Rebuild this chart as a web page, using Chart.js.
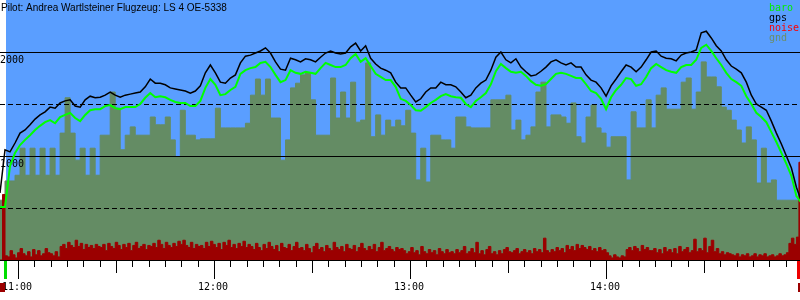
<!DOCTYPE html>
<html>
<head>
<meta charset="utf-8">
<script src="https://cdn.jsdelivr.net/npm/chart.js@4/dist/chart.umd.min.js"></script>
<style>
  html, body { margin: 0; padding: 0; background: #fff; }
  canvas { display: block; }
</style>
</head>
<body>
<canvas id="chart-flug" width="800" height="300"></canvas>
<script>
// times are seconds from 11:00, heights in metres
const startSec = -331;
const stepSec = 92;
const noiseStepSec = 46;
const takeoffSec = -230;
const landingSec = 14330;
const xMinSec = -331;
const xMaxSec = 14363;

const titleText = 'Pilot: Andrea Wartlsteiner Flugzeug: LS 4 OE-5338';
const hourSecs = [0, 3600, 7200, 10800];
const hourLabels = ['11:00', '12:00', '13:00', '14:00'];
const solidLines = [1000, 2000];
const dashedLines = [500, 1500];
const legendNames = ['baro', 'gps', 'noise', 'gnd'];
const legendColors = ['#00ee00', '#000000', '#ff0000', '#6b8e6b'];

const gps = [
  645, 1060, 1040, 1125, 1220, 1250, 1300, 1355, 1395, 1425,
  1470, 1460, 1510, 1530, 1540, 1480, 1470, 1540, 1575, 1560,
  1565, 1585, 1615, 1585, 1565, 1585, 1595, 1605, 1615, 1665,
  1740, 1700, 1700, 1685, 1655, 1645, 1635, 1625, 1605, 1625,
  1675, 1800, 1875, 1800, 1710, 1700, 1750, 1780, 1895, 1960,
  1970, 1990, 2010, 2040, 1990, 1905, 1835, 1825, 1940, 1925,
  1905, 1935, 1925, 1905, 1950, 1990, 2010, 1990, 1980, 1990,
  2050, 2085, 2010, 2060, 1940, 1885, 1845, 1825, 1800, 1710,
  1655, 1655, 1585, 1520, 1550, 1615, 1655, 1655, 1710, 1685,
  1685, 1665, 1615, 1560, 1585, 1655, 1700, 1730, 1825, 1950,
  2000, 1925, 1895, 1935, 1855, 1810, 1770, 1780, 1815, 1855,
  1905, 1925, 1895, 1875, 1895, 1855, 1855, 1780, 1730, 1710,
  1655, 1575, 1675, 1740, 1810, 1875, 1855, 1810, 1855, 1925,
  2000, 2010, 1960, 1940, 1935, 1915, 1970, 1990, 2000, 2020,
  2185, 2200, 2135, 2060, 2010, 1925, 1865, 1835, 1800, 1710,
  1585, 1500, 1470, 1440, 1335, 1220, 1115, 1000, 885, 700,
  565
];

const baro = [
  510, 510, 905, 1030, 1105, 1155, 1200, 1250, 1290, 1325,
  1345, 1315, 1375, 1395, 1415, 1365, 1335, 1395, 1440, 1450,
  1450, 1480, 1490, 1460, 1450, 1470, 1470, 1470, 1500, 1560,
  1605, 1565, 1575, 1565, 1540, 1520, 1510, 1510, 1480, 1480,
  1530, 1655, 1740, 1685, 1585, 1595, 1635, 1665, 1790, 1825,
  1845, 1855, 1895, 1905, 1855, 1780, 1710, 1730, 1825, 1800,
  1790, 1810, 1800, 1790, 1845, 1895, 1875, 1855, 1855, 1875,
  1940, 1980, 1905, 1940, 1865, 1790, 1760, 1730, 1730, 1665,
  1550, 1530, 1490, 1440, 1435, 1470, 1510, 1540, 1575, 1595,
  1575, 1565, 1560, 1500, 1470, 1530, 1565, 1605, 1690, 1815,
  1885, 1845, 1810, 1800, 1810, 1770, 1720, 1685, 1675, 1690,
  1740, 1790, 1800, 1790, 1770, 1750, 1750, 1690, 1625, 1605,
  1550, 1450, 1565, 1635, 1685, 1750, 1740, 1675, 1690, 1760,
  1845, 1885, 1855, 1825, 1810, 1800, 1855, 1875, 1875, 1925,
  2040, 2070, 2010, 1940, 1875, 1800, 1740, 1710, 1675, 1575,
  1500, 1415, 1375, 1325, 1230, 1135, 1030, 925, 810, 615,
  550
];

const gnd = [
  575, 760, 760, 815, 1075, 815, 1075, 815, 1075, 815,
  1075, 815, 1220, 1560, 1220, 960, 1075, 815, 1075, 815,
  1200, 1200, 1615, 1460, 1060, 1200, 1280, 1200, 1200, 1200,
  1375, 1300, 1300, 1375, 1155, 990, 1440, 1200, 1200, 1155,
  1165, 1165, 1165, 1460, 1270, 1270, 1270, 1270, 1270, 1315,
  1585, 1740, 1585, 1740, 1365, 1365, 960, 1155, 1655, 1700,
  1780, 1800, 1540, 1200, 1200, 1200, 1750, 1365, 1615, 1365,
  1710, 1325, 1345, 1895, 1185, 1395, 1200, 1345, 1280, 1345,
  1290, 1440, 1220, 770, 1075, 750, 1200, 1200, 1155, 1155,
  1075, 1375, 1375, 1280, 1270, 1270, 1270, 1270, 1540, 1540,
  1540, 1585, 1250, 1345, 1155, 1200, 1280, 1615, 1710, 1280,
  1395, 1395, 1375, 1315, 1510, 1185, 1125, 1375, 1490, 1270,
  1220, 1085, 1185, 1185, 1185, 770, 1425, 1270, 1270, 1540,
  1270, 1585, 1655, 1450, 1450, 1450, 1710, 1750, 1450, 1615,
  1905, 1760, 1760, 1665, 1470, 1440, 1345, 1250, 1125, 1280,
  1155, 740, 1075, 740, 770, 575, 575, 575, 575, 575
];

const noise = [
  0, 630, 40, 30, 90, 50, 20, 70, 110, 60, 40, 80, 30, 100, 50, 90, 40, 60, 110, 70,
  60, 40, 80, 30, 130, 150, 110, 170, 140, 120, 190, 130, 160, 100, 150, 120, 140, 110, 150, 130,
  120, 150, 90, 160, 130, 110, 170, 140, 100, 150, 120, 160, 90, 140, 170, 110, 130, 150, 100, 140,
  130, 160, 120, 190, 150, 110, 170, 140, 120, 160, 130, 180, 150, 190, 140, 120, 170, 110, 150, 130,
  140, 110, 170, 130, 180, 150, 120, 160, 100, 170, 140, 190, 120, 150, 110, 160, 130, 180, 120, 150,
  130, 100, 160, 120, 90, 150, 110, 170, 130, 100, 140, 80, 160, 120, 110, 150, 90, 130, 170, 110,
  120, 90, 150, 110, 70, 130, 160, 100, 120, 80, 140, 110, 90, 170, 120, 100, 130, 80, 150, 110,
  100, 140, 80, 120, 160, 110, 90, 130, 100, 150, 80, 120, 170, 90, 110, 130, 100, 80, 120, 100,
  110, 90, 60, 80, 120, 70, 90, 50, 130, 80, 60, 100, 70, 90, 50, 110, 80, 60, 100, 70,
  80, 60, 100, 70, 90, 130, 60, 80, 110, 70, 170, 60, 90, 50, 100, 130, 60, 80, 50, 90,
  60, 100, 120, 80, 70, 90, 110, 60, 80, 100, 70, 90, 60, 110, 80, 100, 70, 210, 90, 70,
  100, 80, 120, 90, 110, 70, 140, 100, 130, 90, 150, 110, 140, 120, 100, 130, 90, 110, 80, 120,
  90, 100, 70, 40, 20, 50, 30, 20, 40, 30, 100, 120, 90, 130, 110, 80, 140, 100, 120, 90,
  90, 110, 70, 100, 60, 120, 80, 100, 70, 110, 60, 130, 80, 100, 120, 70, 90, 200, 80, 110,
  90, 210, 70, 130, 190, 80, 110, 60, 80, 50, 70, 60, 50, 40, 60, 30, 50, 40, 60, 30,
  40, 60, 30, 50, 40, 60, 30, 40, 50, 30, 40, 60, 40, 50, 70, 160, 210, 150, 220, 940
];

const skyColor = '#5a9eff';
const gndColor = '#648c64';
const noiseColor = '#9b0000';
const monoFont = "10px 'DejaVu Sans Mono'";

const toPoints = (values, step) => values.map((v, i) => ({ x: startSec + i * step, y: v }));

const gndPoints = toPoints(gnd, stepSec);
gndPoints.push({ x: startSec + gnd.length * stepSec, y: gnd[gnd.length - 1] });
const noisePoints = toPoints(noise, noiseStepSec);
noisePoints.push({ x: startSec + noise.length * noiseStepSec, y: noise[noise.length - 1] });

const flightPlot = {
  id: 'flightPlot',
  beforeDraw(chart) {
    const { ctx, chartArea: a } = chart;
    const x = chart.scales.x;
    ctx.save();
    ctx.fillStyle = '#ffffff';
    ctx.fillRect(0, 0, chart.width, chart.height);
    const x0 = Math.ceil(x.getPixelForValue(takeoffSec));
    ctx.fillStyle = skyColor;
    ctx.fillRect(x0, a.top, a.right - x0, a.bottom - a.top);
    ctx.restore();
  },
  afterDatasetDraw(chart, args) {
    if (args.index !== 3) return;
    const { ctx, chartArea: a } = chart;
    const y = chart.scales.y;
    ctx.save();
    ctx.fillStyle = '#000';
    solidLines.forEach(v => {
      ctx.fillRect(0, Math.round(y.getPixelForValue(v)), a.right, 1);
    });
    ctx.strokeStyle = '#000';
    ctx.lineWidth = 1;
    ctx.setLineDash([5, 3]);
    dashedLines.forEach(v => {
      const py = Math.round(y.getPixelForValue(v)) + 0.5;
      ctx.beginPath();
      ctx.moveTo(0, py);
      ctx.lineTo(a.right, py);
      ctx.stroke();
    });
    ctx.setLineDash([]);
    ctx.font = monoFont;
    ctx.textBaseline = 'alphabetic';
    solidLines.forEach(v => {
      ctx.fillText(String(v), 0, Math.round(y.getPixelForValue(v)) + 10.5);
    });
    ctx.restore();
  },
  afterDraw(chart) {
    const { ctx, chartArea: a } = chart;
    const x = chart.scales.x;
    const base = a.bottom;
    ctx.save();

    // time axis
    ctx.fillStyle = '#000';
    ctx.fillRect(0, base, a.right, 1);
    for (let s = 0; s <= xMaxSec; s += 300) {
      const px = Math.round(x.getPixelForValue(s));
      let len = 6;
      if (s % 3600 === 0) len = 18;
      else if (s % 1800 === 0) len = 12;
      ctx.fillRect(px, base + 1, 1, len);
    }
    ctx.font = monoFont;
    ctx.textAlign = 'center';
    hourSecs.forEach((s, i) => {
      ctx.fillText(hourLabels[i], Math.round(x.getPixelForValue(s)) - 1, 290);
    });

    // takeoff / landing marks
    const tk = x.getPixelForValue(takeoffSec);
    const ld = x.getPixelForValue(landingSec);
    ctx.fillStyle = '#00dd00';
    ctx.fillRect(Math.round(tk) - 1, base + 1, 3, 18);
    ctx.fillStyle = '#ee0000';
    ctx.fillRect(Math.round(ld) - 1, base + 1, 3, 18);
    ctx.fillStyle = noiseColor;
    ctx.fillRect(0, 283, Math.round(tk), 9);
    ctx.fillRect(Math.round(ld), 283, a.right - Math.round(ld), 9);

    // title
    ctx.textAlign = 'left';
    ctx.fillStyle = '#000';
    ctx.font = "10px 'Liberation Sans'";
    ctx.fillText(titleText, 1, 11);

    // legend
    ctx.font = monoFont;
    legendNames.forEach((name, i) => {
      ctx.fillStyle = legendColors[i];
      ctx.fillText(name, 769, 11 + i * 10);
    });
    ctx.restore();
  }
};

new Chart(document.getElementById('chart-flug'), {
  type: 'line',
  data: {
    datasets: [
      {
        label: 'gps',
        data: toPoints(gps, stepSec),
        borderColor: '#000000',
        borderWidth: 1.5,
        pointRadius: 0,
        tension: 0,
        fill: false,
        order: 1
      },
      {
        label: 'baro',
        data: toPoints(baro, stepSec),
        borderColor: '#00ff00',
        borderWidth: 2,
        pointRadius: 0,
        tension: 0,
        fill: false,
        order: 2
      },
      {
        label: 'noise',
        data: noisePoints,
        stepped: true,
        borderColor: noiseColor,
        backgroundColor: noiseColor,
        borderWidth: 1,
        pointRadius: 0,
        fill: 'origin',
        order: 3
      },
      {
        label: 'gnd',
        data: gndPoints,
        stepped: true,
        borderColor: gndColor,
        backgroundColor: gndColor,
        borderWidth: 1,
        pointRadius: 0,
        fill: 'origin',
        order: 4
      }
    ]
  },
  options: {
    responsive: false,
    devicePixelRatio: 1,
    animation: false,
    layout: { padding: { left: 0, right: 0, top: 0, bottom: 40 } },
    scales: {
      x: { type: 'linear', min: xMinSec, max: xMaxSec, display: false },
      y: { min: 0, max: 2500, display: false }
    },
    plugins: {
      legend: { display: false },
      tooltip: { enabled: false }
    }
  },
  plugins: [flightPlot]
});
</script>
</body>
</html>
